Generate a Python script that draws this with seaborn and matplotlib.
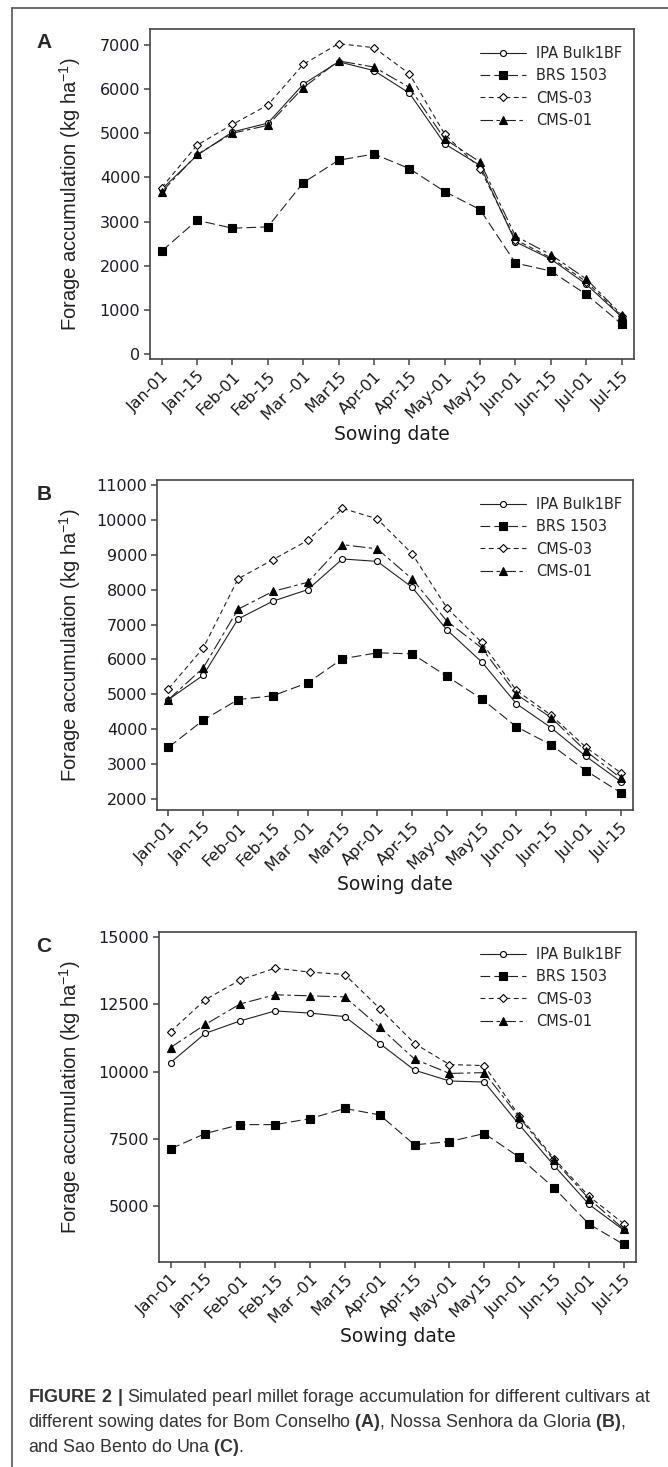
import numpy as np
import pandas as pd
import seaborn as sns
from matplotlib import pyplot as plt

sns.set_style('ticks')
plt.rcParams['font.family'] = ['DejaVu Sans']
plt.rcParams['lines.scale_dashes'] = False
plt.rcParams['mathtext.fontset'] = 'custom'
plt.rcParams['mathtext.rm'] = 'Liberation Sans'
plt.rcParams['mathtext.bf'] = 'Liberation Sans:bold'

dates = ['Jan-01', 'Jan-15', 'Feb-01', 'Feb-15', 'Mar -01', 'Mar15', 'Apr-01',
         'Apr-15', 'May-01', 'May15', 'Jun-01', 'Jun-15', 'Jul-01', 'Jul-15']
cultivars = ['IPA Bulk1BF', 'BRS 1503', 'CMS-03', 'CMS-01']

# panel A - Bom Conselho
ipa_a = [3730, 4500, 5030, 5230, 6110, 6620, 6420, 5910, 4760, 4270, 2540, 2150, 1580, 840]
brs_a = [2330, 3030, 2850, 2880, 3880, 4390, 4530, 4200, 3680, 3270, 2060, 1880, 1350, 680]
cms03_a = [3770, 4730, 5200, 5640, 6560, 7030, 6940, 6350, 4980, 4200, 2590, 2180, 1640, 860]
cms01_a = [3670, 4520, 5000, 5180, 6030, 6640, 6500, 6040, 4870, 4350, 2670, 2250, 1700, 890]

# panel B - Nossa Senhora da Gloria
ipa_b = [4850, 5550, 7160, 7670, 8000, 8880, 8810, 8070, 6850, 5930, 4730, 4040, 3220, 2500]
brs_b = [3480, 4260, 4850, 4960, 5330, 6020, 6190, 6160, 5520, 4870, 4070, 3550, 2810, 2180]
cms03_b = [5160, 6330, 8310, 8860, 9410, 10330, 10030, 9030, 7480, 6490, 5110, 4400, 3480, 2750]
cms01_b = [4850, 5760, 7440, 7950, 8210, 9290, 9170, 8310, 7100, 6330, 5000, 4330, 3370, 2600]

# panel C - Sao Bento do Una
ipa_c = [10330, 11420, 11880, 12250, 12170, 12040, 11040, 10050, 9650, 9610, 8030, 6510, 5070, 4110]
brs_c = [7130, 7700, 8030, 8030, 8250, 8630, 8390, 7280, 7400, 7700, 6820, 5680, 4340, 3580]
cms03_c = [11480, 12670, 13400, 13840, 13690, 13600, 12340, 11040, 10260, 10220, 8360, 6770, 5370, 4350]
cms01_c = [10890, 11750, 12510, 12850, 12810, 12770, 11650, 10460, 9930, 9960, 8300, 6700, 5280, 4150]

yticks_a = [0, 1000, 2000, 3000, 4000, 5000, 6000, 7000]
yticks_b = [2000, 3000, 4000, 5000, 6000, 7000, 8000, 9000, 10000, 11000]
yticks_c = [5000, 7500, 10000, 12500, 15000]

# line / marker look for each cultivar
styles = {
    'IPA Bulk1BF': dict(marker='o', markersize=4.3, markerfacecolor='white', linestyle='-'),
    'BRS 1503': dict(marker='s', markersize=5.3, markerfacecolor='black', linestyle=(0, (7, 3))),
    'CMS-03': dict(marker='D', markersize=4.5, markerfacecolor='white', linestyle=(0, (3.5, 2.5))),
    'CMS-01': dict(marker='^', markersize=6.3, markerfacecolor='black', linestyle=(0, (9, 2.5, 2.5, 2.5))),
}

W, H = 668, 1467
fig = plt.figure(figsize=(W / 100, H / 100), dpi=100)


def add_axes_px(l, t, r, b):
    return fig.add_axes([l / W, 1 - b / H, (r - l) / W, (b - t) / H])


def draw_panel(box, series, yticks, ylim, letter, leg_rows_top):
    l, t, r, b = box
    ax = add_axes_px(l, t, r, b)
    x = np.arange(len(dates))
    for name, vals in zip(cultivars, series):
        sns.lineplot(x=x, y=vals, ax=ax, color='#222222', linewidth=0.8,
                     markeredgecolor='black', markeredgewidth=0.8,
                     label=name, legend=False, **styles[name])
    ax.set_xlim(-0.33, 13.35)
    ax.set_ylim(*ylim)
    ax.set_xticks(x)
    ax.set_xticklabels(dates, rotation=45, ha='right', rotation_mode='anchor',
                       fontsize=11.5, color='#1a1a1a')
    ax.set_yticks(yticks)
    ax.set_yticklabels([str(v) for v in yticks], fontsize=11.5, color='#1a1a2a')
    ax.tick_params(axis='both', direction='out', length=4, width=1.1, color='#444444', pad=3)
    for s in ax.spines.values():
        s.set_color('#444444')
        s.set_linewidth(1.2)
    ax.set_xlabel('Sowing date', fontsize=13.5, color='#1a1a1a')
    ax.xaxis.set_label_coords(0.5, -75 / (b - t))
    ax.xaxis.label.set_va('center')
    ax.set_ylabel('Forage accumulation (kg ha$^{-1}$)', fontsize=14.5,
                  family='Liberation Sans', color='#222222')
    ax.yaxis.set_label_coords((83 - l) / (r - l), 0.5)
    fig.text(44 / W, 1 - (t + 14) / H, letter, fontsize=15, fontweight='bold',
             family='Liberation Sans', ha='center', va='center')
    ax.legend(loc='upper left', bbox_to_anchor=(480 / W, 1 - (t + leg_rows_top) / H),
              bbox_transform=fig.transFigure, frameon=False, fontsize=10.5,
              handlelength=3.15, handletextpad=0.7, labelspacing=0.5,
              borderpad=0, borderaxespad=0)
    return ax


draw_panel((150, 29, 634, 359), [ipa_a, brs_a, cms03_a, cms01_a], yticks_a, (-113, 7362), 'A', 17)
draw_panel((157, 480, 633, 810), [ipa_b, brs_b, cms03_b, cms01_b], yticks_b, (1685, 11143), 'B', 17)
draw_panel((159, 932, 636, 1262), [ipa_c, brs_c, cms03_c, cms01_c], yticks_c, (2930, 15180), 'C', 15)

# outer frame (left and top edges visible)
fig.add_artist(plt.Line2D([12 / W, 12 / W], [0, 1 - 8 / H], color='#555555', linewidth=1.2))
fig.add_artist(plt.Line2D([12 / W, 1], [1 - 8 / H, 1 - 8 / H], color='#555555', linewidth=1.2))

cap_lines = [
    r'$\mathbf{FIGURE\ 2\ |}$ Simulated pearl millet forage accumulation for different cultivars at',
    r'different sowing dates for Bom Conselho $\mathbf{(A)}$, Nossa Senhora da Gloria $\mathbf{(B)}$,',
    r'and Sao Bento do Una $\mathbf{(C)}$.',
]
for i, line in enumerate(cap_lines):
    fig.text(28 / W, 1 - (1397 + 25.5 * i) / H, line, fontsize=12.9, color='#333333',
             family='Liberation Sans', va='center', ha='left')

fig.savefig('out.png', dpi=100)
